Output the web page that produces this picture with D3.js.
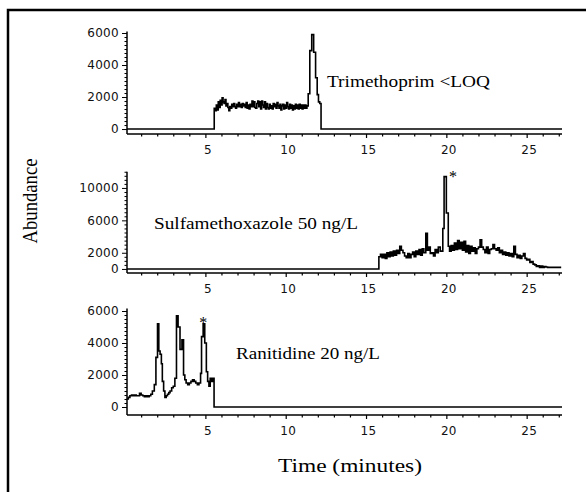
<!DOCTYPE html>
<html>
<head>
<meta charset="utf-8">
<script src="https://cdn.jsdelivr.net/npm/d3@7"></script>
<style>
  body { margin: 0; background: #fff; }
  svg { display: block; }
  .tick-label { font-family: "DejaVu Sans", sans-serif; font-size: 12px; letter-spacing: 0.3px; fill: #111; }
  .serif { font-family: "Liberation Serif", "Times New Roman", serif; fill: #000; }
</style>
</head>
<body>
<svg id="canvas" width="586" height="492"></svg>
<script>
// ---- data (time in minutes, abundance) ----
const timeTicks = [5, 10, 15, 20, 25];
const compoundLabels = ["Trimethoprim <LOQ", "Sulfamethoxazole 50 ng/L", "Ranitidine 20 ng/L"];
const topTicks = [0, 2000, 4000, 6000];
const midTicks = [0, 2000, 6000, 10000];
const botTicks = [0, 2000, 4000, 6000];

const trimethoprim = [
  [0.12,0],[5.55,0],[5.55,1300],[5.62,1150],[5.68,1500],[5.74,1200],[5.8,1700],[5.86,1350],[5.92,1800],
  [5.98,1500],[6.04,1950],[6.1,1700],[6.16,1600],[6.22,1850],[6.28,1450],[6.34,1600],[6.4,1350],[6.46,1150],
  [6.52,1400],[6.58,1300],[6.64,1550],[6.7,1400],[6.76,1600],[6.82,1400],[6.88,1300],[6.94,1550],[7.0,1400],
  [7.06,1650],[7.12,1400],[7.18,1550],[7.24,1350],[7.3,1600],[7.36,1450],[7.42,1550],[7.48,1350],[7.54,1650],
  [7.6,1300],[7.66,1500],[7.72,1250],[7.78,1550],[7.84,1400],[7.9,1750],[7.96,1400],[8.02,1700],[8.08,1350],
  [8.14,1300],[8.2,1600],[8.26,1750],[8.32,1400],[8.38,1700],[8.44,1250],[8.5,1750],[8.56,1500],[8.62,1350],
  [8.68,1700],[8.74,1250],[8.8,1600],[8.86,1350],[8.92,1250],[8.98,1550],[9.04,1300],[9.1,1450],[9.16,1250],
  [9.22,1600],[9.28,1400],[9.34,1550],[9.4,1300],[9.46,1650],[9.52,1450],[9.58,1300],[9.64,1550],[9.7,1200],
  [9.76,1450],[9.82,1550],[9.88,1250],[9.94,1500],[10.0,1300],[10.06,1650],[10.12,1400],[10.18,1250],
  [10.24,1550],[10.3,1300],[10.36,1500],[10.42,1200],[10.48,1450],[10.54,1250],[10.6,1550],[10.66,1300],
  [10.72,1500],[10.78,1250],[10.84,1550],[10.9,1300],[10.96,1500],[11.02,1250],[11.08,1500],[11.14,1300],
  [11.2,1500],[11.26,1300],[11.32,1450],[11.4,2200],[11.5,4900],[11.62,5900],[11.74,4800],[11.86,3200],
  [11.96,2150],[12.04,1700],[12.12,1600],[12.2,0],[27.2,0]
];

const sulfamethoxazole = [
  [0.12,0],[15.8,0],[15.8,1500],[15.9,1800],[16.0,1400],[16.1,1800],[16.2,1300],[16.3,2000],[16.4,1500],
  [16.5,2100],[16.6,1600],[16.7,2200],[16.8,1700],[16.9,2300],[17.0,1900],[17.1,2800],[17.2,2300],[17.3,2000],
  [17.4,1600],[17.5,1400],[17.6,1900],[17.7,1400],[17.8,1800],[17.9,2100],[18.0,1500],[18.1,2200],[18.2,1800],
  [18.3,2400],[18.4,1700],[18.5,2500],[18.6,2000],[18.72,4400],[18.82,2300],[18.9,2700],[19.0,1900],[19.1,2000],
  [19.2,1600],[19.3,2400],[19.4,2000],[19.5,2700],[19.62,2200],[19.78,5000],[19.86,11400],[20.0,6900],
  [20.12,2800],[20.2,2200],[20.3,2900],[20.4,2300],[20.5,3200],[20.6,2400],[20.7,3500],[20.8,2500],[20.9,3300],
  [21.0,2300],[21.1,3400],[21.2,2100],[21.3,2900],[21.4,1900],[21.5,2800],[21.6,2200],[21.7,2600],[21.8,1900],
  [21.9,2500],[22.0,2700],[22.1,3600],[22.2,2700],[22.3,2400],[22.4,2000],[22.5,2700],[22.6,1900],[22.7,2400],
  [22.8,2500],[22.9,3000],[23.0,2500],[23.1,2300],[23.2,2600],[23.3,2000],[23.4,2300],[23.5,1800],[23.6,2100],
  [23.7,1700],[23.8,2000],[23.9,1600],[24.0,1900],[24.1,1500],[24.2,2800],[24.3,1800],[24.4,1400],[24.5,1700],
  [24.6,1300],[24.7,1600],[24.8,1900],[24.9,1300],[25.0,1100],[25.1,1200],[25.2,800],[25.3,900],[25.4,600],
  [25.5,500],[25.6,300],[25.7,400],[25.8,200],[25.9,350],[26.0,200],[26.1,300],[26.2,250],[26.3,200],[27.15,200]
];

const ranitidine = [
  [0.12,500],[0.2,600],[0.3,700],[0.4,750],[0.5,700],[0.6,750],[0.7,700],[0.8,700],[0.9,850],[1.0,750],
  [1.1,700],[1.2,650],[1.3,700],[1.4,650],[1.5,700],[1.6,800],[1.7,1000],[1.82,1400],[1.92,3100],[2.02,5200],
  [2.1,3500],[2.18,3300],[2.26,2700],[2.32,1600],[2.4,1000],[2.48,600],[2.56,700],[2.64,800],[2.72,900],
  [2.8,1000],[2.9,1200],[3.0,1300],[3.1,1800],[3.2,5700],[3.3,5000],[3.42,3600],[3.54,4200],[3.64,2000],
  [3.72,1700],[3.8,1500],[3.9,1400],[4.0,1500],[4.1,1600],[4.2,1700],[4.3,1600],[4.4,1500],[4.5,1400],
  [4.6,1500],[4.7,2100],[4.76,4400],[4.86,5200],[4.96,4000],[5.06,2200],[5.14,1600],[5.22,1300],[5.3,1800],
  [5.38,1600],[5.46,1800],[5.54,0],[27.2,0]
];

// peaks marked with a star (time, abundance)
const starredPeaks = [null, [19.86, 11400], [4.86, 5200]];

// ---- layout ----
const svg = d3.select("#canvas");

//outer frame
svg.append("rect")
  .attr("x", 8).attr("y", 10)
  .attr("width", 620).attr("height", 520)
  .attr("fill", "none").attr("stroke", "#000").attr("stroke-width", 2.5);

//shared time scale
const x = d3.scaleLinear().domain([0.12, 27.2]).range([127, 562]);

const panels = [
  { trace: trimethoprim, yDomain: [-310, 6100], yRange: [134, 31.4], ticks: topTicks, minor: 250,
    label: compoundLabels[0], lx: 327, ly: 87, lw: 163 },
  { trace: sulfamethoxazole, yDomain: [-500, 12000], yRange: [273, 171.75], ticks: midTicks, minor: 500,
    label: compoundLabels[1], lx: 154, ly: 229, lw: 204, star: [9, -3] },
  { trace: ranitidine, yDomain: [-500, 6150], yRange: [415, 308.6], ticks: botTicks, minor: 250,
    label: compoundLabels[2], lx: 236, ly: 359, lw: 144, star: [0, -4] }
];

panels.forEach((p, i) => {
  const y = d3.scaleLinear().domain(p.yDomain).range(p.yRange);
  const g = svg.append("g");
  const axisY = p.yRange[0];

  //chromatogram trace
  const line = d3.line()
    .x(d => x(d[0]))
    .y(d => y(d[1]))
    .curve(d3.curveStepAfter);
  g.append("path")
    .attr("d", line(p.trace))
    .attr("fill", "none")
    .attr("stroke", "#000")
    .attr("stroke-width", 1.6);

  //x axis with minute ticks
  const xAxis = d3.axisBottom(x)
    .tickValues(d3.range(1, 28))
    .tickSize(3)
    .tickFormat(d => timeTicks.includes(d) ? d : "");
  const xa = g.append("g")
    .attr("transform", `translate(0,${axisY})`)
    .call(xAxis);
  xa.select(".domain").attr("d", `M${x.range()[0]},0H${x.range()[1]}`).attr("stroke-width", 1.5);
  xa.selectAll(".tick line").attr("stroke-width", 1.2)
    .attr("y2", d => timeTicks.includes(d) ? 4 : 2.5);
  xa.selectAll(".tick text")
    .attr("class", "tick-label")
    .attr("y", 11).attr("dx", 2)
    .style("font-family", null).style("font-size", null);
  xa.attr("font-family", null).attr("font-size", null);

  //y axis: minor ticks plus labelled majors
  const minorVals = d3.range(0, p.yDomain[1] + 1, p.minor);
  const yAxis = d3.axisLeft(y)
    .tickValues(minorVals)
    .tickSize(2.5)
    .tickFormat(d => p.ticks.includes(d) ? d : "");
  const ya = g.append("g")
    .attr("transform", `translate(${x.range()[0]},0)`)
    .call(yAxis);
  ya.select(".domain").attr("d", `M0,${p.yRange[1]}V${p.yRange[0]}`).attr("stroke-width", 1.5);
  ya.selectAll(".tick line").attr("stroke-width", 1)
    .attr("x2", d => p.ticks.includes(d) ? -5 : -2.5);
  ya.selectAll(".tick text")
    .attr("class", "tick-label")
    .attr("x", -8)
    .style("font-family", null).style("font-size", null);
  ya.attr("font-family", null).attr("font-size", null);

  //compound label
  svg.append("text")
    .attr("class", "serif")
    .attr("x", p.lx).attr("y", p.ly)
    .attr("font-size", 17)
    .attr("textLength", p.lw)
    .attr("lengthAdjust", "spacingAndGlyphs")
    .text(p.label);

  //star over the quantified peak
  const sp = starredPeaks[i];
  if (sp) {
    svg.append("text")
      .attr("class", "serif")
      .attr("x", x(sp[0]) + p.star[0])
      .attr("y", y(sp[1]) + p.star[1] + 8)
      .attr("text-anchor", "middle")
      .attr("font-size", 16)
      .text("*");
  }
});

//axis titles
svg.append("text")
  .attr("class", "serif")
  .attr("transform", "translate(37,201) rotate(-90)")
  .attr("text-anchor", "middle")
  .attr("font-size", 21)
  .attr("textLength", 85)
  .attr("lengthAdjust", "spacingAndGlyphs")
  .text("Abundance");

svg.append("text")
  .attr("class", "serif")
  .attr("x", 350).attr("y", 472)
  .attr("text-anchor", "middle")
  .attr("font-size", 19)
  .attr("textLength", 144)
  .attr("lengthAdjust", "spacingAndGlyphs")
  .text("Time (minutes)");
</script>
</body>
</html>
